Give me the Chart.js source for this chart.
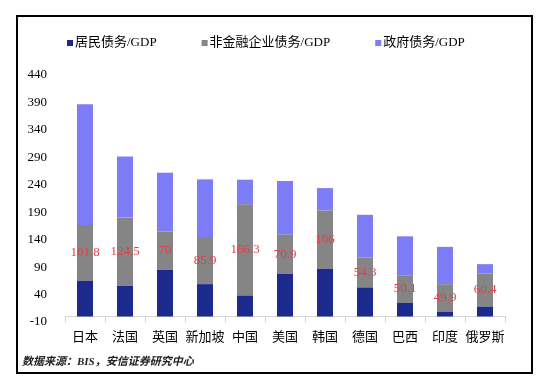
<!DOCTYPE html>
<html>
<head>
<meta charset="utf-8">
<script src="https://cdn.jsdelivr.net/npm/chart.js@4/dist/chart.umd.min.js"></script>
<style>
  html, body { margin: 0; padding: 0; background: #fff; }
  #wrap { width: 550px; height: 386px; position: relative; }
</style>
</head>
<body>
<div id="wrap"><canvas id="chart"></canvas></div>
<script>
// données (% du PIB)
const categories = ['日本', '法国', '英国', '新加坡', '中国', '美国', '韩国', '德国', '巴西', '印度', '俄罗斯'];
const household = [65, 56, 85, 59, 38, 78, 87, 53, 25, 9, 18];
const nonFinancial = [101.8, 124.5, 70, 85.9, 166.3, 70.9, 106, 54.3, 50.1, 49.9, 60.4];
const government = [220, 111, 107, 105, 45, 98, 41, 78, 71, 68, 17];
const seriesNames = ['居民债务/GDP', '非金融企业债务/GDP', '政府债务/GDP'];
const yMin = -10, yMax = 440, yStep = 50;
const sourceText = '数据来源：BIS，安信证券研究中心';

const FONT = "'Liberation Serif', 'Noto Sans CJK SC', serif";
const colors = ['#1c2a8e', '#858585', '#7d7df7'];

// légende, étiquettes rouges, cadre et source
const extras = {
    id: 'extras',
    afterDatasetsDraw(chart) {
        const ctx = chart.ctx;
        const meta = chart.getDatasetMeta(1);
        ctx.save();
        ctx.fillStyle = '#e0404a';
        ctx.font = '13px ' + FONT;
        ctx.textAlign = 'center';
        ctx.textBaseline = 'middle';
        meta.data.forEach((bar, i) => {
            const p = bar.getProps(['x', 'y', 'base'], true);
            ctx.fillText(nonFinancial[i], p.x, (p.y + p.base) / 2);
        });
        ctx.restore();
    },
    afterDraw(chart) {
        const ctx = chart.ctx;
        ctx.save();
        // légende
        ctx.font = '13px ' + FONT;
        ctx.textBaseline = 'middle';
        let x = 67;
        chart.data.datasets.forEach(ds => {
            ctx.fillStyle = ds.backgroundColor;
            ctx.fillRect(x, 40, 6, 6);
            ctx.fillStyle = '#000';
            ctx.fillText(ds.label, x + 8, 43);
            x += 8 + ctx.measureText(ds.label).width + 45;
        });
        // source
        ctx.font = 'italic bold 11px ' + FONT;
        ctx.fillStyle = '#222';
        ctx.fillText(sourceText, 22, 362);
        // cadre
        ctx.strokeStyle = '#000';
        ctx.lineWidth = 2;
        ctx.strokeRect(17, 16, 515, 357);
        ctx.restore();
    }
};

new Chart(document.getElementById('chart'), {
    type: 'bar',
    data: {
        labels: categories,
        datasets: [
            { label: seriesNames[0], data: household, backgroundColor: colors[0] },
            { label: seriesNames[1], data: nonFinancial, backgroundColor: colors[1] },
            { label: seriesNames[2], data: government, backgroundColor: colors[2] }
        ]
    },
    options: {
        responsive: true,
        maintainAspectRatio: false,
        animation: false,
        datasets: { bar: { categoryPercentage: 1, barPercentage: 0.4 } },
        layout: { padding: { left: 20, right: 45, top: 75, bottom: 64 } },
        plugins: {
            legend: { display: false },
            tooltip: { enabled: false }
        },
        scales: {
            x: {
                stacked: true,
                position: { y: 0 },
                border: { color: '#d4d4d4' },
                grid: { drawOnChartArea: false, color: '#d4d4d4', tickLength: 5 },
                ticks: {
                    color: '#000', font: { size: 13, family: FONT }, padding: 8,
                    maxRotation: 0, minRotation: 0, autoSkip: false
                }
            },
            y: {
                stacked: true,
                min: yMin,
                max: yMax,
                border: { display: false },
                grid: { display: false },
                ticks: { stepSize: yStep, color: '#000', font: { size: 13, family: FONT }, padding: 10 },
                afterFit(scale) { scale.width = 45; }
            }
        }
    },
    plugins: [extras]
});
</script>
</body>
</html>
